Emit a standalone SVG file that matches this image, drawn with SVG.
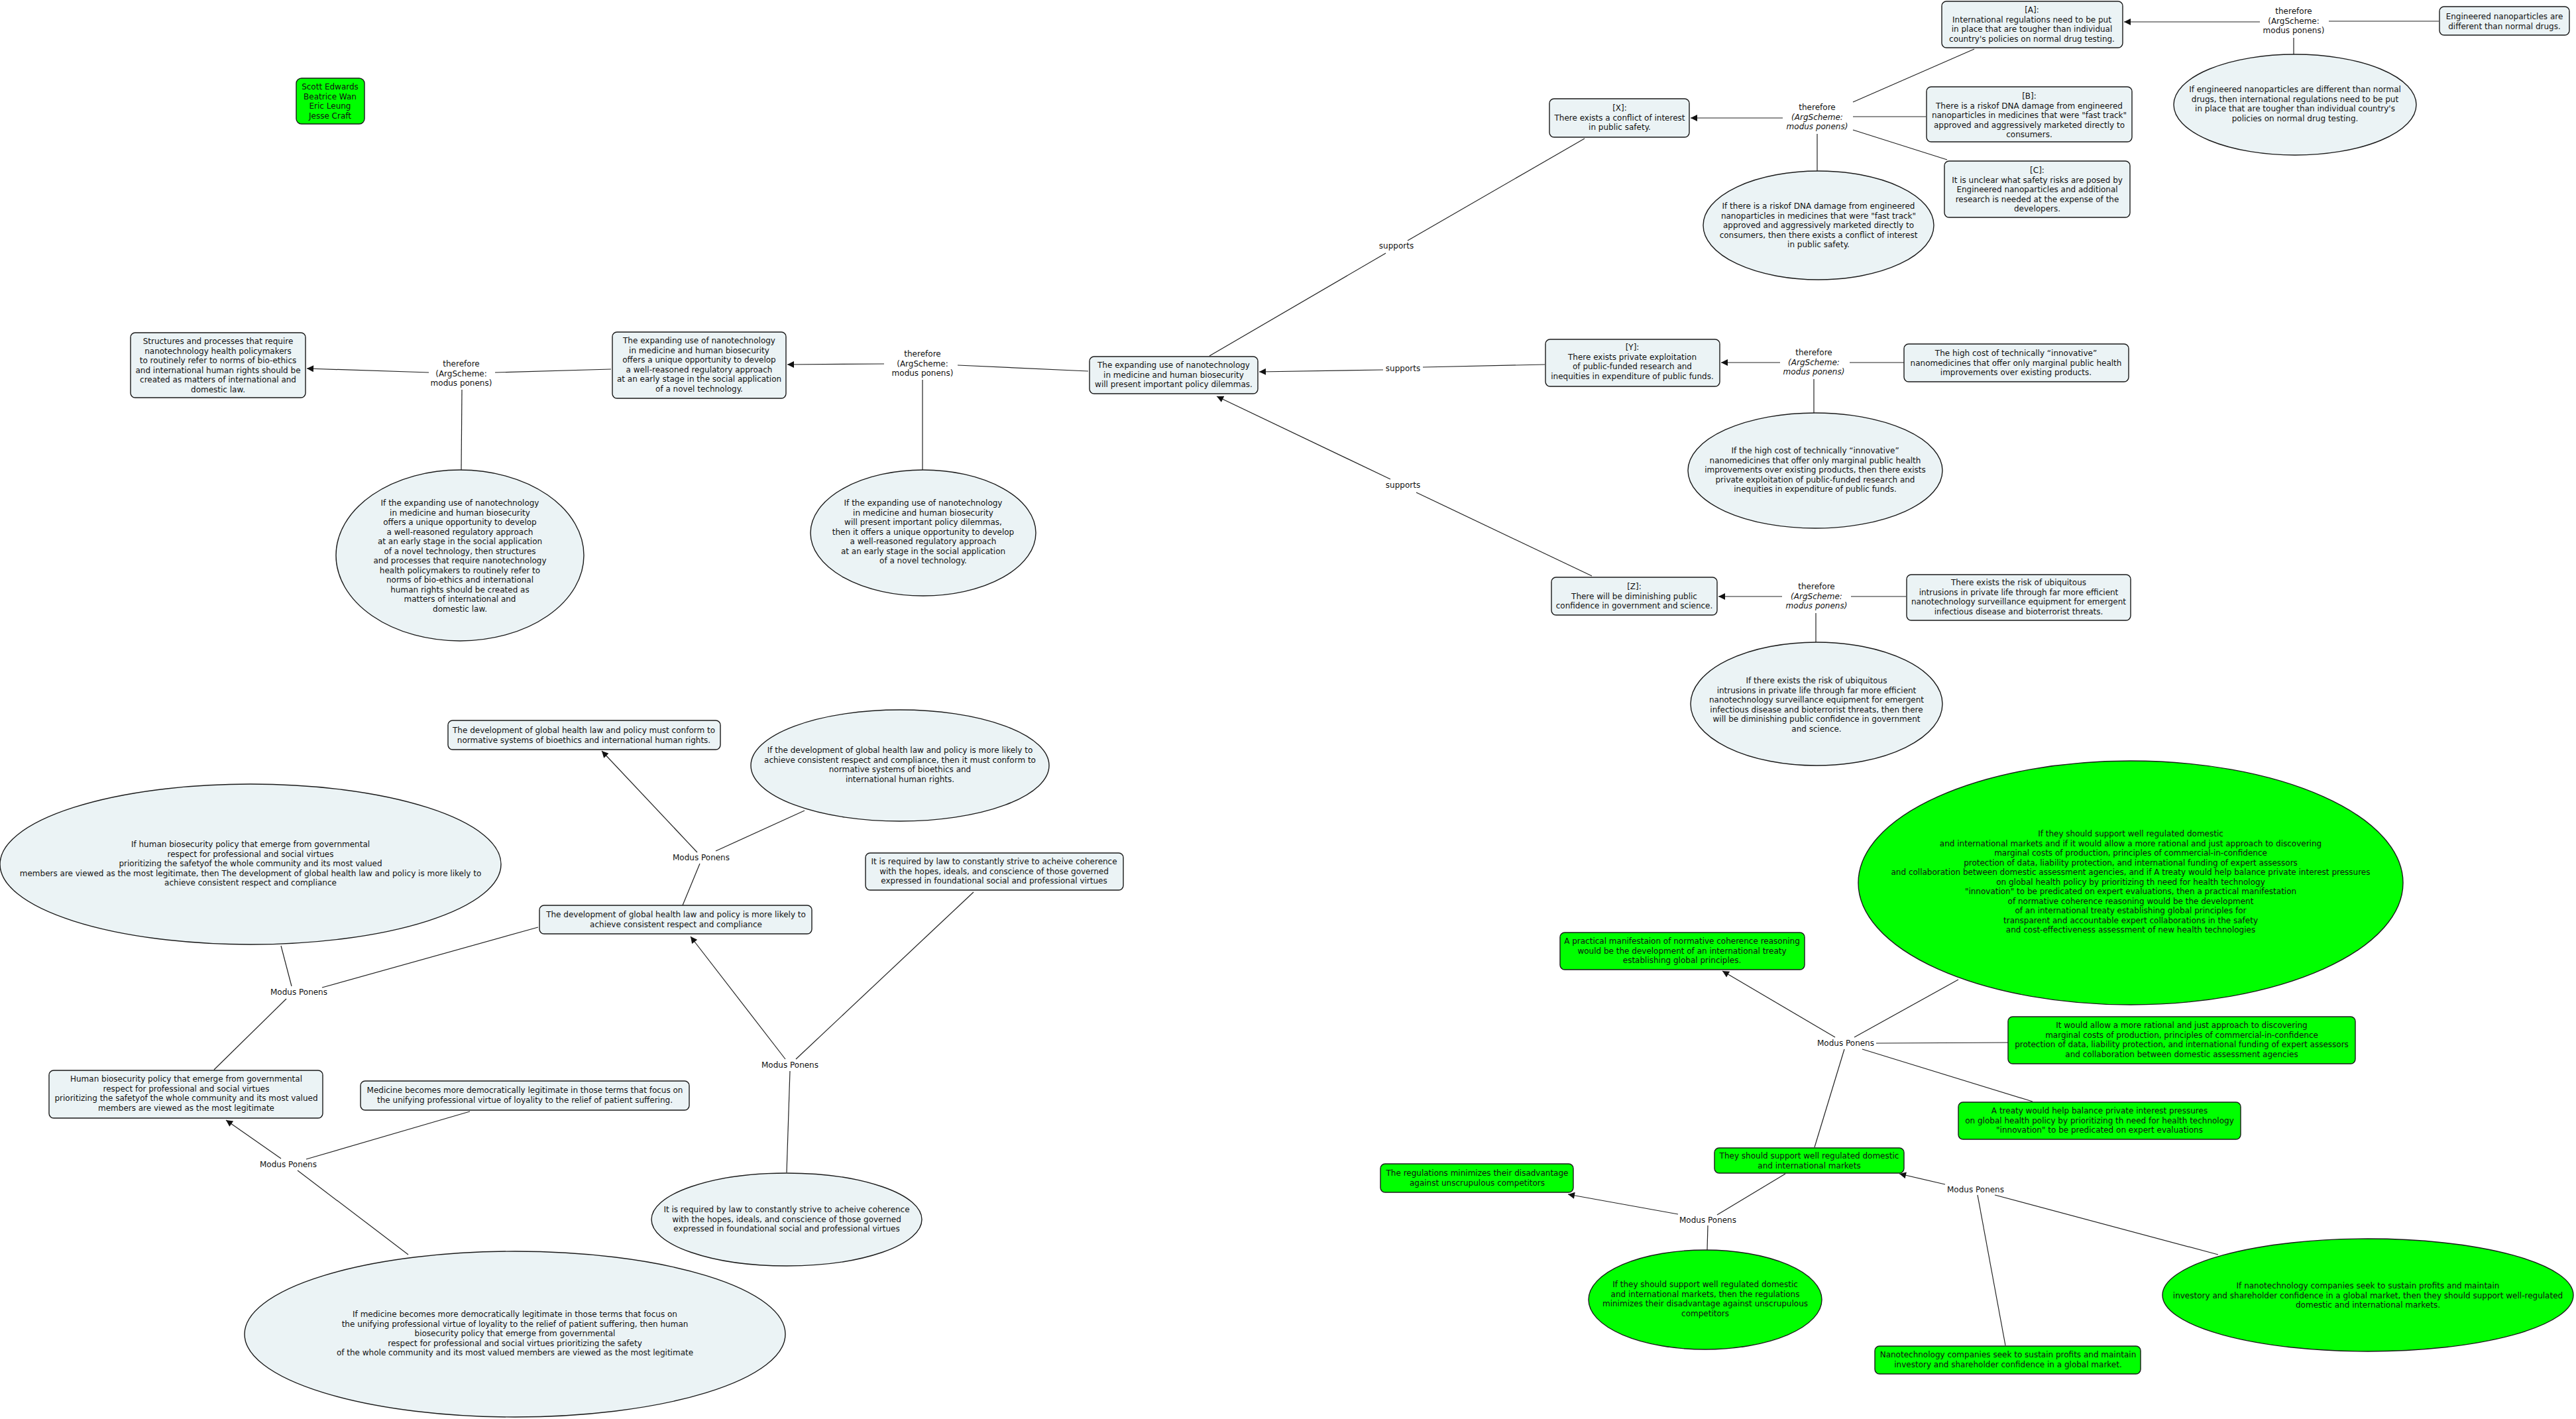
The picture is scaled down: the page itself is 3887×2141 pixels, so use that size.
<svg xmlns="http://www.w3.org/2000/svg" width="3887" height="2141" viewBox="0 0 3887 2141">
<style>
.n{fill:#EBF3F5;stroke:#1a1a1a;stroke-width:1.4}
.g{fill:#00FF00;stroke:#1a1a1a;stroke-width:1.4}
text{font-family:"DejaVu Sans",Verdana,sans-serif;font-size:12px;fill:#111;text-anchor:middle}
.i{font-style:italic}
.c line{stroke:#222;stroke-width:1.2}
.a{marker-end:url(#ah)}
</style>
<defs>
<marker id="ah" viewBox="0 0 10 10" refX="10" refY="5" markerWidth="11" markerHeight="10" markerUnits="userSpaceOnUse" orient="auto"><path d="M0,0 L10,5 L0,10 z" fill="#111"/></marker>
</defs>
<rect width="3887" height="2141" fill="#fff"/>

<g id="connectors" class="c">
<line x1="3680" y1="32" x2="3514" y2="32"/>
<line class="a" x1="3410" y1="33" x2="3205" y2="33"/>
<line x1="3461" y1="57" x2="3461" y2="82"/>
<line class="a" x1="2690" y1="178" x2="2551" y2="178"/>
<line x1="2906" y1="176" x2="2796" y2="176"/>
<line x1="2979" y1="74" x2="2796" y2="154"/>
<line x1="2938" y1="241" x2="2796" y2="196"/>
<line x1="2742" y1="202" x2="2742" y2="258"/>
<line x1="2391" y1="209" x2="2124" y2="363"/>
<line x1="2091" y1="382" x2="1825" y2="537"/>
<line x1="2331" y1="550" x2="2147" y2="554"/>
<line class="a" x1="2087" y1="558" x2="1900" y2="561"/>
<line x1="2402" y1="869" x2="2137" y2="743"/>
<line class="a" x1="2098" y1="723" x2="1836" y2="598"/>
<line class="a" x1="2686" y1="547" x2="2597" y2="547"/>
<line x1="2873" y1="547" x2="2791" y2="547"/>
<line x1="2737" y1="572" x2="2737" y2="623"/>
<line class="a" x1="2689" y1="900" x2="2593" y2="900"/>
<line x1="2876" y1="900" x2="2793" y2="900"/>
<line x1="2740" y1="925" x2="2740" y2="969"/>
<line x1="1642" y1="560" x2="1445" y2="551"/>
<line class="a" x1="1334" y1="549" x2="1188" y2="550"/>
<line x1="1392" y1="573" x2="1392" y2="709"/>
<line x1="922" y1="557" x2="747" y2="562"/>
<line class="a" x1="647" y1="562" x2="463" y2="556"/>
<line x1="697" y1="588" x2="696" y2="709"/>
<line class="a" x1="1052" y1="1286" x2="908" y2="1133"/>
<line x1="1056" y1="1303" x2="1030" y2="1366"/>
<line x1="1214" y1="1223" x2="1080" y2="1284"/>
<line x1="424" y1="1427" x2="440" y2="1488"/>
<line x1="486" y1="1490" x2="812" y2="1399"/>
<line x1="432" y1="1507" x2="323" y2="1614"/>
<line class="a" x1="424" y1="1748" x2="341" y2="1690"/>
<line x1="462" y1="1749" x2="709" y2="1677"/>
<line x1="449" y1="1766" x2="616" y2="1893"/>
<line class="a" x1="1185" y1="1598" x2="1042" y2="1413"/>
<line x1="1201" y1="1598" x2="1469" y2="1346"/>
<line x1="1192" y1="1616" x2="1187" y2="1769"/>
<line class="a" x1="2769" y1="1565" x2="2599" y2="1465"/>
<line x1="2798" y1="1565" x2="2955" y2="1478"/>
<line x1="2831" y1="1574" x2="3030" y2="1573"/>
<line x1="2810" y1="1583" x2="3067" y2="1662"/>
<line x1="2783" y1="1583" x2="2738" y2="1731"/>
<line class="a" x1="2935" y1="1787" x2="2866" y2="1771"/>
<line x1="3010" y1="1803" x2="3347" y2="1893"/>
<line x1="2984" y1="1803" x2="3026" y2="2030"/>
<line class="a" x1="2532" y1="1832" x2="2366" y2="1802"/>
<line x1="2591" y1="1833" x2="2694" y2="1771"/>
<line x1="2577" y1="1849" x2="2576" y2="1886"/>
</g>

<g id="link-labels">
<text x="3461" y="21">therefore<tspan x="3461" dy="14.5">(ArgScheme:</tspan><tspan x="3461" dy="14.5">modus ponens)</tspan></text>
<text x="2742" y="166">therefore<tspan x="2742" dy="14.5" class="i">(ArgScheme:</tspan><tspan x="2742" dy="14.5" class="i">modus ponens)</tspan></text>
<text x="2737" y="536">therefore<tspan x="2737" dy="14.5" class="i">(ArgScheme:</tspan><tspan x="2737" dy="14.5" class="i">modus ponens)</tspan></text>
<text x="2741" y="889">therefore<tspan x="2741" dy="14.5" class="i">(ArgScheme:</tspan><tspan x="2741" dy="14.5" class="i">modus ponens)</tspan></text>
<text x="1392" y="538">therefore<tspan x="1392" dy="14.5">(ArgScheme:</tspan><tspan x="1392" dy="14.5">modus ponens)</tspan></text>
<text x="696" y="553">therefore<tspan x="696" dy="14.5">(ArgScheme:</tspan><tspan x="696" dy="14.5">modus ponens)</tspan></text>
<text x="2107" y="375">supports</text>
<text x="2117" y="560">supports</text>
<text x="2117" y="736">supports</text>
<text x="1058" y="1298">Modus Ponens</text>
<text x="451" y="1501">Modus Ponens</text>
<text x="435" y="1761">Modus Ponens</text>
<text x="1192" y="1611">Modus Ponens</text>
<text x="2785" y="1578">Modus Ponens</text>
<text x="2981" y="1799">Modus Ponens</text>
<text x="2577" y="1845">Modus Ponens</text>
</g>

<g id="authors"><rect class="g" x="447" y="118" width="103" height="69" rx="8"/>
<text x="498" y="135">Scott Edwards<tspan x="498" dy="14.5">Beatrice Wan</tspan><tspan x="498" dy="14.5">Eric Leung</tspan><tspan x="498" dy="14.5">Jesse Craft</tspan></text></g>

<g id="structures"><rect class="n" x="197" y="502" width="264" height="98" rx="7"/>
<text x="329" y="519">Structures and processes that require<tspan x="329" dy="14.5">nanotechnology health policymakers</tspan><tspan x="329" dy="14.5">to routinely refer to norms of bio-ethics</tspan><tspan x="329" dy="14.5">and international human rights should be</tspan><tspan x="329" dy="14.5">created as matters of international and</tspan><tspan x="329" dy="14.5">domestic law.</tspan></text></g>

<g id="expanding-opportunity"><rect class="n" x="924" y="501" width="262" height="100" rx="7"/>
<text x="1055" y="518">The expanding use of nanotechnology<tspan x="1055" dy="14.5">in medicine and human biosecurity</tspan><tspan x="1055" dy="14.5">offers a unique opportunity to develop</tspan><tspan x="1055" dy="14.5">a well-reasoned regulatory approach</tspan><tspan x="1055" dy="14.5">at an early stage in the social application</tspan><tspan x="1055" dy="14.5">of a novel technology.</tspan></text></g>

<g id="central"><rect class="n" x="1644" y="538" width="254" height="56" rx="7"/>
<text x="1771" y="555">The expanding use of nanotechnology<tspan x="1771" dy="14.5">in medicine and human biosecurity</tspan><tspan x="1771" dy="14.5">will present important policy dilemmas.</tspan></text></g>

<g id="node-x"><rect class="n" x="2338" y="149" width="211" height="58" rx="7"/>
<text x="2444" y="167">[X]:<tspan x="2444" dy="14.5">There exists a conflict of interest</tspan><tspan x="2444" dy="14.5">in public safety.</tspan></text></g>

<g id="node-a"><rect class="n" x="2930" y="2" width="273" height="70" rx="7"/>
<text x="3066" y="19">[A]:<tspan x="3066" dy="14.5">International regulations need to be put</tspan><tspan x="3066" dy="14.5">in place that are tougher than individual</tspan><tspan x="3066" dy="14.5">country's policies on normal drug testing.</tspan></text></g>

<g id="node-b"><rect class="n" x="2907" y="131" width="310" height="83" rx="7"/>
<text x="3062" y="149">[B]:<tspan x="3062" dy="14.5">There is a riskof DNA damage from engineered</tspan><tspan x="3062" dy="14.5">nanoparticles in medicines that were "fast track"</tspan><tspan x="3062" dy="14.5">approved and aggressively marketed directly to</tspan><tspan x="3062" dy="14.5">consumers.</tspan></text></g>

<g id="node-c"><rect class="n" x="2934" y="243" width="280" height="85" rx="7"/>
<text x="3074" y="261">[C]:<tspan x="3074" dy="14.5">It is unclear what safety risks are posed by</tspan><tspan x="3074" dy="14.5">Engineered nanoparticles and additional</tspan><tspan x="3074" dy="14.5">research is needed at the expense of the</tspan><tspan x="3074" dy="14.5">developers.</tspan></text></g>

<g id="engineered"><rect class="n" x="3681" y="10" width="196" height="43" rx="7"/>
<text x="3779" y="29">Engineered nanoparticles are<tspan x="3779" dy="14.5">different than normal drugs.</tspan></text></g>

<g id="ellipse-a"><ellipse class="n" cx="3463" cy="158" rx="183" ry="76"/>
<text x="3463" y="139">If engineered nanoparticles are different than normal<tspan x="3463" dy="14.5">drugs, then international regulations need to be put</tspan><tspan x="3463" dy="14.5">in place that are tougher than individual country's</tspan><tspan x="3463" dy="14.5">policies on normal drug testing.</tspan></text></g>

<g id="ellipse-x"><ellipse class="n" cx="2744" cy="340" rx="174" ry="82"/>
<text x="2744" y="315">If there is a riskof DNA damage from engineered<tspan x="2744" dy="14.5">nanoparticles in medicines that were "fast track"</tspan><tspan x="2744" dy="14.5">approved and aggressively marketed directly to</tspan><tspan x="2744" dy="14.5">consumers, then there exists a conflict of interest</tspan><tspan x="2744" dy="14.5">in public safety.</tspan></text></g>

<g id="node-y"><rect class="n" x="2332" y="512" width="263" height="71" rx="7"/>
<text x="2463" y="528">[Y]:<tspan x="2463" dy="14.5">There exists private exploitation</tspan><tspan x="2463" dy="14.5">of public-funded research and</tspan><tspan x="2463" dy="14.5">inequities in expenditure of public funds.</tspan></text></g>

<g id="high-cost"><rect class="n" x="2873" y="519" width="339" height="57" rx="7"/>
<text x="3042" y="537">The high cost of technically “innovative”<tspan x="3042" dy="14.5">nanomedicines that offer only marginal public health</tspan><tspan x="3042" dy="14.5">improvements over existing products.</tspan></text></g>

<g id="ellipse-y"><ellipse class="n" cx="2739" cy="710" rx="192" ry="87"/>
<text x="2739" y="684">If the high cost of technically “innovative”<tspan x="2739" dy="14.5">nanomedicines that offer only marginal public health</tspan><tspan x="2739" dy="14.5">improvements over existing products, then there exists</tspan><tspan x="2739" dy="14.5">private exploitation of public-funded research and</tspan><tspan x="2739" dy="14.5">inequities in expenditure of public funds.</tspan></text></g>

<g id="node-z"><rect class="n" x="2341" y="871" width="250" height="57" rx="7"/>
<text x="2466" y="889">[Z]:<tspan x="2466" dy="14.5">There will be diminishing public</tspan><tspan x="2466" dy="14.5">confidence in government and science.</tspan></text></g>

<g id="ubiquitous"><rect class="n" x="2877" y="867" width="338" height="69" rx="7"/>
<text x="3046" y="883">There exists the risk of ubiquitous<tspan x="3046" dy="14.5">intrusions in private life through far more efficient</tspan><tspan x="3046" dy="14.5">nanotechnology surveillance equipment for emergent</tspan><tspan x="3046" dy="14.5">infectious disease and bioterrorist threats.</tspan></text></g>

<g id="ellipse-z"><ellipse class="n" cx="2741" cy="1062" rx="190" ry="93"/>
<text x="2741" y="1031">If there exists the risk of ubiquitous<tspan x="2741" dy="14.5">intrusions in private life through far more efficient</tspan><tspan x="2741" dy="14.5">nanotechnology surveillance equipment for emergent</tspan><tspan x="2741" dy="14.5">infectious disease and bioterrorist threats, then there</tspan><tspan x="2741" dy="14.5">will be diminishing public confidence in government</tspan><tspan x="2741" dy="14.5">and science.</tspan></text></g>

<g id="ellipse-left"><ellipse class="n" cx="694" cy="838" rx="187" ry="129"/>
<text x="694" y="763">If the expanding use of nanotechnology<tspan x="694" dy="14.5">in medicine and human biosecurity</tspan><tspan x="694" dy="14.5">offers a unique opportunity to develop</tspan><tspan x="694" dy="14.5">a well-reasoned regulatory approach</tspan><tspan x="694" dy="14.5">at an early stage in the social application</tspan><tspan x="694" dy="14.5">of a novel technology, then structures</tspan><tspan x="694" dy="14.5">and processes that require nanotechnology</tspan><tspan x="694" dy="14.5">health policymakers to routinely refer to</tspan><tspan x="694" dy="14.5">norms of bio-ethics and international</tspan><tspan x="694" dy="14.5">human rights should be created as</tspan><tspan x="694" dy="14.5">matters of international and</tspan><tspan x="694" dy="14.5">domestic law.</tspan></text></g>

<g id="ellipse-mid"><ellipse class="n" cx="1393" cy="804" rx="170" ry="95"/>
<text x="1393" y="763">If the expanding use of nanotechnology<tspan x="1393" dy="14.5">in medicine and human biosecurity</tspan><tspan x="1393" dy="14.5">will present important policy dilemmas,</tspan><tspan x="1393" dy="14.5">then it offers a unique opportunity to develop</tspan><tspan x="1393" dy="14.5">a well-reasoned regulatory approach</tspan><tspan x="1393" dy="14.5">at an early stage in the social application</tspan><tspan x="1393" dy="14.5">of a novel technology.</tspan></text></g>

<g id="must-conform"><rect class="n" x="676" y="1087" width="411" height="44" rx="7"/>
<text x="881" y="1106">The development of global health law and policy must conform to<tspan x="881" dy="14.5">normative systems of bioethics and international human rights.</tspan></text></g>

<g id="ellipse-conform"><ellipse class="n" cx="1358" cy="1155" rx="225" ry="84"/>
<text x="1358" y="1136">If the development of global health law and policy is more likely to<tspan x="1358" dy="14.5">achieve consistent respect and compliance, then it must conform to</tspan><tspan x="1358" dy="14.5">normative systems of bioethics and</tspan><tspan x="1358" dy="14.5">international human rights.</tspan></text></g>

<g id="ellipse-human"><ellipse class="n" cx="378" cy="1304" rx="378" ry="121"/>
<text x="378" y="1278">If human biosecurity policy that emerge from governmental<tspan x="378" dy="14.5">respect for professional and social virtues</tspan><tspan x="378" dy="14.5">prioritizing the safetyof the whole community and its most valued</tspan><tspan x="378" dy="14.5">members are viewed as the most legitimate, then The development of global health law and policy is more likely to</tspan><tspan x="378" dy="14.5">achieve consistent respect and compliance</tspan></text></g>

<g id="more-likely"><rect class="n" x="814" y="1366" width="411" height="43" rx="7"/>
<text x="1020" y="1384">The development of global health law and policy is more likely to<tspan x="1020" dy="14.5">achieve consistent respect and compliance</tspan></text></g>

<g id="required-box"><rect class="n" x="1306" y="1287" width="389" height="56" rx="7"/>
<text x="1500" y="1304">It is required by law to constantly strive to acheive coherence<tspan x="1500" dy="14.5">with the hopes, ideals, and conscience of those governed</tspan><tspan x="1500" dy="14.5">expressed in foundational social and professional virtues</tspan></text></g>

<g id="human-box"><rect class="n" x="74" y="1615" width="413" height="72" rx="7"/>
<text x="281" y="1632">Human biosecurity policy that emerge from governmental<tspan x="281" dy="14.5">respect for professional and social virtues</tspan><tspan x="281" dy="14.5">prioritizing the safetyof the whole community and its most valued</tspan><tspan x="281" dy="14.5">members are viewed as the most legitimate</tspan></text></g>

<g id="medicine-box"><rect class="n" x="544" y="1631" width="496" height="44" rx="7"/>
<text x="792" y="1649">Medicine becomes more democratically legitimate in those terms that focus on<tspan x="792" dy="14.5">the unifying professional virtue of loyality to the relief of patient suffering.</tspan></text></g>

<g id="ellipse-required"><ellipse class="n" cx="1187" cy="1840" rx="204" ry="70"/>
<text x="1187" y="1829">It is required by law to constantly strive to acheive coherence<tspan x="1187" dy="14.5">with the hopes, ideals, and conscience of those governed</tspan><tspan x="1187" dy="14.5">expressed in foundational social and professional virtues</tspan></text></g>

<g id="ellipse-medicine"><ellipse class="n" cx="777" cy="2013" rx="408" ry="125"/>
<text x="777" y="1987">If medicine becomes more democratically legitimate in those terms that focus on<tspan x="777" dy="14.5">the unifying professional virtue of loyality to the relief of patient suffering, then human</tspan><tspan x="777" dy="14.5">biosecurity policy that emerge from governmental</tspan><tspan x="777" dy="14.5">respect for professional and social virtues prioritizing the safety</tspan><tspan x="777" dy="14.5">of the whole community and its most valued members are viewed as the most legitimate</tspan></text></g>

<g id="ellipse-green-big"><ellipse class="g" cx="3215" cy="1332" rx="411" ry="184"/>
<text x="3215" y="1262">If they should support well regulated domestic<tspan x="3215" dy="14.5">and international markets and if it would allow a more rational and just approach to discovering</tspan><tspan x="3215" dy="14.5">marginal costs of production, principles of commercial-in-confidence</tspan><tspan x="3215" dy="14.5">protection of data, liability protection, and international funding of expert assessors</tspan><tspan x="3215" dy="14.5">and collaboration between domestic assessment agencies, and if  A treaty would help balance private interest pressures</tspan><tspan x="3215" dy="14.5">on global health policy by prioritizing th need for health technology</tspan><tspan x="3215" dy="14.5">"innovation" to be predicated on expert evaluations, then a practical manifestation</tspan><tspan x="3215" dy="14.5">of normative coherence reasoning would be the development</tspan><tspan x="3215" dy="14.5">of an international treaty establishing global principles for</tspan><tspan x="3215" dy="14.5">transparent and accountable expert collaborations in the safety</tspan><tspan x="3215" dy="14.5">and cost-effectiveness assessment of new health technologies</tspan></text></g>

<g id="practical"><rect class="g" x="2354" y="1407" width="369" height="56" rx="7"/>
<text x="2538" y="1424">A practical manifestaion of normative coherence reasoning<tspan x="2538" dy="14.5">would be the development of an international treaty</tspan><tspan x="2538" dy="14.5">establishing global principles.</tspan></text></g>

<g id="would-allow"><rect class="g" x="3030" y="1534" width="524" height="71" rx="7"/>
<text x="3292" y="1551">It would allow a more rational and just approach to discovering<tspan x="3292" dy="14.5">marginal costs of production, principles of commercial-in-confidence</tspan><tspan x="3292" dy="14.5">protection of data, liability protection, and international funding of expert assessors</tspan><tspan x="3292" dy="14.5">and collaboration between domestic assessment agencies</tspan></text></g>

<g id="treaty"><rect class="g" x="2955" y="1663" width="426" height="56" rx="7"/>
<text x="3168" y="1680">A treaty would help balance private interest pressures<tspan x="3168" dy="14.5">on global health policy by prioritizing th need for health technology</tspan><tspan x="3168" dy="14.5">"innovation" to be predicated on expert evaluations</tspan></text></g>

<g id="they-should"><rect class="g" x="2587" y="1732" width="286" height="38" rx="7"/>
<text x="2730" y="1748">They should support well regulated domestic<tspan x="2730" dy="14.5">and international markets</tspan></text></g>

<g id="regulations"><rect class="g" x="2083" y="1756" width="291" height="43" rx="7"/>
<text x="2229" y="1774">The regulations minimizes their disadvantage<tspan x="2229" dy="14.5">against unscrupulous competitors</tspan></text></g>

<g id="ellipse-green-they"><ellipse class="g" cx="2573" cy="1961" rx="176" ry="75"/>
<text x="2573" y="1942">If they should support well regulated domestic<tspan x="2573" dy="14.5">and international markets, then the regulations</tspan><tspan x="2573" dy="14.5">minimizes their disadvantage against unscrupulous</tspan><tspan x="2573" dy="14.5">competitors</tspan></text></g>

<g id="ellipse-green-nano"><ellipse class="g" cx="3573" cy="1954" rx="310" ry="85"/>
<text x="3573" y="1944">If nanotechnology companies seek to sustain profits and maintain<tspan x="3573" dy="14.5">investory and shareholder confidence in a global market, then they should support well-regulated</tspan><tspan x="3573" dy="14.5">domestic and international markets.</tspan></text></g>

<g id="nanotech-companies"><rect class="g" x="2829" y="2031" width="401" height="42" rx="7"/>
<text x="3030" y="2048">Nanotechnology companies seek to sustain profits and maintain<tspan x="3030" dy="14.5">investory and shareholder confidence in a global market.</tspan></text></g>
</svg>
